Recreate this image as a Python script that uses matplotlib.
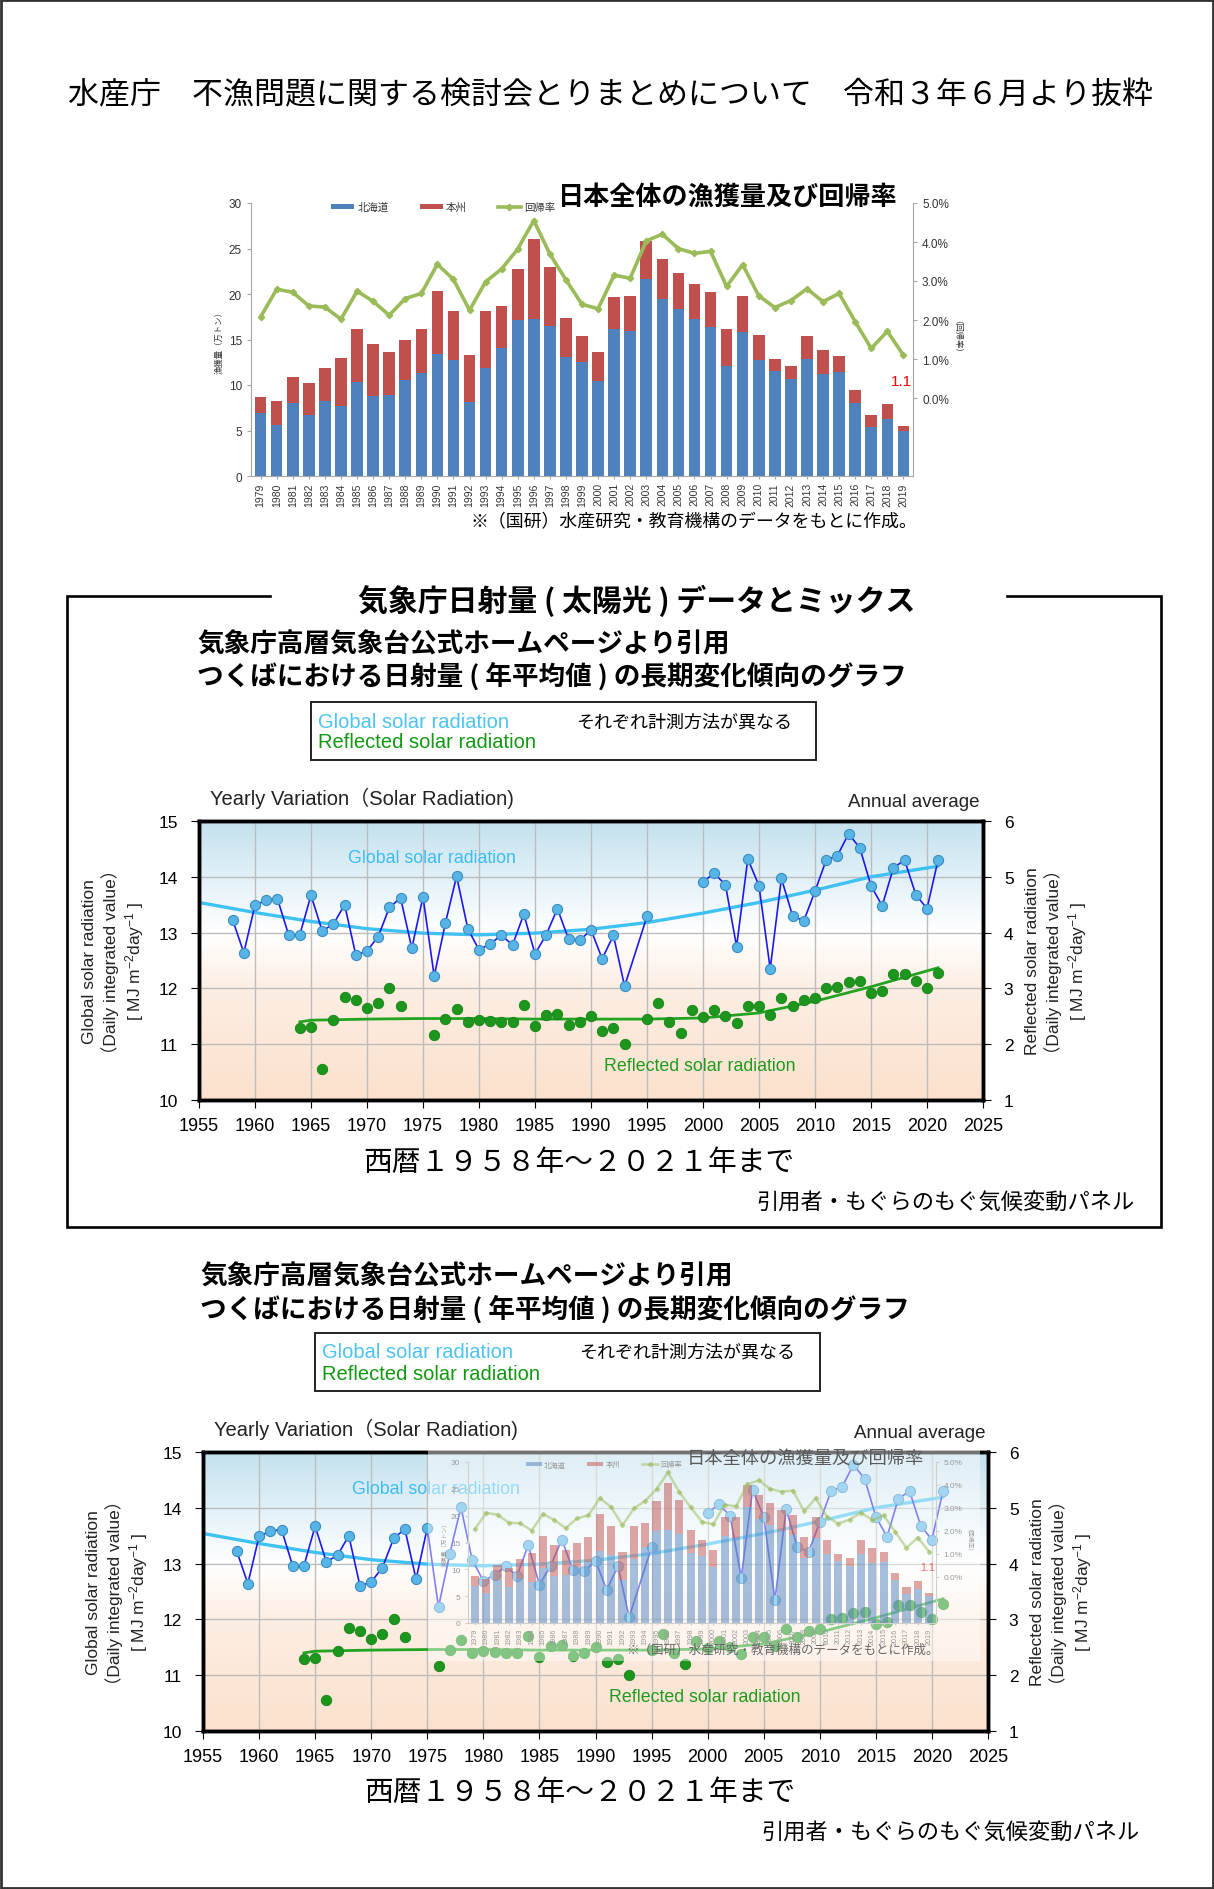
import numpy as np
import matplotlib
matplotlib.use('Agg')
import matplotlib.pyplot as plt
from matplotlib.patches import Rectangle
from matplotlib.lines import Line2D
from matplotlib.colors import LinearSegmentedColormap

plt.rcParams['mathtext.fontset'] = 'custom'
plt.rcParams['mathtext.rm'] = 'Liberation Sans'
plt.rcParams['mathtext.it'] = 'Liberation Sans:italic'
plt.rcParams['font.family'] = ['Liberation Sans', 'Noto Sans CJK JP', 'DejaVu Sans']

# ---------------- data: catch chart ----------------
catch_years = list(range(1979, 2020))
hokkaido = [6.9, 5.6, 8.0, 6.7, 8.2, 7.7, 10.3, 8.8, 8.9, 10.5, 11.3, 13.4, 12.7, 8.1, 11.9, 14.1,
            17.1, 17.3, 16.5, 13.1, 12.5, 10.4, 16.2, 15.9, 21.6, 19.4, 18.3, 17.2, 16.4, 12.1,
            15.8, 12.8, 11.5, 10.7, 12.9, 11.2, 11.4, 8.0, 5.4, 6.3, 5.0]
honshu = [1.8, 2.6, 2.9, 3.5, 3.7, 5.3, 5.9, 5.7, 4.7, 4.5, 4.8, 6.9, 5.4, 5.2, 6.2, 4.6,
          5.7, 8.7, 6.5, 4.3, 2.9, 3.2, 3.5, 3.9, 4.2, 4.5, 4.0, 3.9, 3.8, 4.0,
          4.0, 2.7, 1.4, 1.4, 2.5, 2.7, 1.8, 1.4, 1.3, 1.6, 0.5]
return_rate = [2.08, 2.79, 2.71, 2.36, 2.33, 2.02, 2.74, 2.48, 2.12, 2.55, 2.68, 3.43, 3.04, 2.25,
               2.98, 3.31, 3.82, 4.55, 3.69, 3.03, 2.40, 2.29, 3.15, 3.07, 4.03, 4.20, 3.83, 3.71,
               3.76, 2.86, 3.42, 2.62, 2.32, 2.50, 2.80, 2.47, 2.68, 1.96, 1.27, 1.71, 1.10]
rate_ticks = [0, 1, 2, 3, 4, 5]

# ---------------- data: solar radiation chart ----------------
global_years = list(range(1958, 1994)) + [1995] + list(range(2000, 2022))
global_vals = [13.23, 12.64, 13.49, 13.58, 13.61, 12.96, 12.96, 13.67, 13.03, 13.15, 13.50, 12.60,
               12.67, 12.93, 13.45, 13.62, 12.72, 13.64, 12.22, 13.17, 14.01, 13.07, 12.69, 12.80,
               12.95, 12.78, 13.33, 12.62, 12.96, 13.43, 12.88, 12.86, 13.05, 12.53, 12.95, 12.04,
               13.29,
               13.91, 14.06, 13.86, 12.75, 14.32, 13.84, 12.35, 13.97, 13.30, 13.21, 13.74, 14.30,
               14.38, 14.77, 14.52, 13.84, 13.48, 14.16, 14.30, 13.68, 13.43, 14.31]
refl_years = list(range(1964, 1974)) + list(range(1976, 1994)) + list(range(1995, 2022))
refl_vals = [2.29, 2.30, 1.56, 2.43, 2.85, 2.79, 2.64, 2.73, 3.00, 2.68,
             2.17, 2.46, 2.63, 2.39, 2.43, 2.41, 2.40, 2.39, 2.70, 2.32, 2.53, 2.54, 2.35, 2.40,
             2.51, 2.24, 2.29, 2.00,
             2.46, 2.73, 2.40, 2.20, 2.61, 2.49, 2.61, 2.51, 2.38, 2.69, 2.69, 2.52, 2.82, 2.68,
             2.79, 2.83, 3.00, 3.03, 3.11, 3.13, 2.91, 2.95, 3.25, 3.25, 3.13, 3.01, 3.27]
global_trend_years = [1955, 1960, 1965, 1970, 1975, 1980, 1985, 1990, 1995, 2000, 2005, 2010, 2015, 2021]
global_trend_vals = [13.54, 13.36, 13.20, 13.07, 12.99, 12.96, 12.99, 13.06, 13.18, 13.35, 13.54, 13.76, 14.00, 14.19]
refl_trend_years = [1964, 1965, 1970, 1975, 1980, 1985, 1990, 1995, 2000, 2005, 2010, 2015, 2021]
refl_trend_vals = [2.40, 2.43, 2.45, 2.46, 2.46, 2.45, 2.45, 2.45, 2.47, 2.56, 2.77, 3.03, 3.37]

# ---------------- figure helpers ----------------
W, H = 1214, 1890
fig = plt.figure(figsize=(W / 100, H / 100), dpi=100)
JP = ['Noto Sans CJK JP', 'DejaVu Sans']
EN = ['Liberation Sans', 'Noto Sans CJK JP', 'DejaVu Sans']
NARROW = ['Liberation Sans Narrow', 'Liberation Sans', 'DejaVu Sans']


def add_ax(x0, y0, x1, y1):
    return fig.add_axes([x0 / W, 1 - y1 / H, (x1 - x0) / W, (y1 - y0) / H])


def ftext(x, y, s, **kw):
    return fig.text(x / W, 1 - y / H, s, **kw)


def frect(x0, y0, x1, y1, **kw):
    r = Rectangle((x0 / W, 1 - y1 / H), (x1 - x0) / W, (y1 - y0) / H,
                  transform=fig.transFigure, **kw)
    fig.add_artist(r)
    return r


def fline(xs, ys, **kw):
    fig.add_artist(Line2D([x / W for x in xs], [1 - y / H for y in ys],
                          transform=fig.transFigure, **kw))


def draw_catch(rect, k=1.0, a=1.0, main=True, zo=None):
    ax = add_ax(*rect)
    ax.patch.set_visible(False)
    xs = np.arange(len(catch_years))
    b1 = ax.bar(xs, hokkaido, 0.72, color='#4f81bd', alpha=a, zorder=2)
    b2 = ax.bar(xs, honshu, 0.72, bottom=hokkaido, color='#c0504d', alpha=a, zorder=2)
    ax.set_xlim(-0.6, len(xs) - 0.4)
    ax.set_ylim(0, 30)
    ax.set_yticks(range(0, 31, 5))
    ax.set_xticks(xs)
    tc = '#333333' if main else '#9a9a9a'
    sc = '#a6a6a6' if main else '#cfcfcf'
    ax.set_xticklabels([str(y) for y in catch_years], rotation=90, fontsize=7.5 * k, color=tc)
    ax.tick_params(axis='y', labelsize=8.5 * k, colors=tc, length=3 * k, color=sc)
    ax.tick_params(axis='x', length=2.5 * k, color=sc, pad=2 * k)
    for s in ['top', 'right']:
        ax.spines[s].set_visible(False)
    for s in ['left', 'bottom']:
        ax.spines[s].set_color(sc)
    ax2 = ax.twinx()
    ax2.patch.set_visible(False)
    ln, = ax2.plot(xs, return_rate, color='#9bbb59', lw=2.6 * k, marker='D', ms=3.2 * k,
                   alpha=a, zorder=3)
    ax2.set_ylim(-2, 5)
    ax2.set_yticks(rate_ticks)
    ax2.set_yticklabels([f'{v:.1f}%' for v in rate_ticks])
    ax2.tick_params(axis='y', labelsize=8.5 * k, colors=tc, length=3 * k, color=sc)
    for s in ['top', 'left', 'bottom']:
        ax2.spines[s].set_visible(False)
    ax2.spines['right'].set_color(sc)
    if zo is not None:
        ax.set_zorder(zo)
        ax2.set_zorder(zo + 1)
    leg = ax2.legend([b1, b2, ln], ['北海道', '本州', '回帰率'], loc='center',
                     bbox_to_anchor=(0.29, 0.985), ncol=3, frameon=False,
                     prop={'family': JP, 'size': 7.5 * k}, handlelength=2.2,
                     handleheight=0.5, columnspacing=3.0, handletextpad=0.3)
    for t in leg.get_texts():
        t.set_color(tc)
    ax2.text(0.72, 1.026, '日本全体の漁獲量及び回帰率', transform=ax2.transAxes, ha='center',
             va='center', fontsize=18.8 * k, weight='bold' if main else 'normal',
             color='black' if main else '#5a5a5a', family=JP)
    ax2.text(0.983, 0.348, '1.1', transform=ax2.transAxes, ha='center', va='center',
             fontsize=11 * k, color='red', alpha=1 if main else 0.6)
    ax2.text(1.006, -0.165, '※（国研）水産研究・教育機構のデータをもとに作成。',
             transform=ax2.transAxes, ha='right', va='center', fontsize=12.9 * k,
             color='black' if main else '#666666', family=JP)
    ax.set_ylabel('漁獲量（万トン）', family=JP, fontsize=6 * k, color=tc, labelpad=4 * k)
    ax2.set_ylabel('（回帰率）', family=JP, fontsize=6 * k, color=tc, labelpad=6 * k, rotation=270)
    return ax, ax2


cmap = LinearSegmentedColormap.from_list('bg', [
    (0.0, '#fbe1cd'), (0.4, '#fdeee3'), (0.6, '#ffffff'), (0.7, '#f1f8fc'), (1.0, '#c3e1ee')])
grad = np.linspace(0, 1, 256).reshape(-1, 1)


def draw_solar(rect):
    x0, y0, x1, y1 = rect
    ax = add_ax(*rect)
    ax.imshow(grad, extent=[1955, 2025, 10, 15], aspect='auto', cmap=cmap, origin='lower',
              zorder=0, interpolation='bilinear')
    ax.set_xlim(1955, 2025)
    ax.set_ylim(10, 15)
    ax.set_xticks(range(1955, 2026, 5))
    ax.set_yticks(range(10, 16))
    ax.set_axisbelow(True)
    ax.grid(True, color='#bdbdbd', lw=1.0)
    ax.plot(global_trend_years, global_trend_vals, color='#3fc2f2', lw=2.4, zorder=2,
            solid_capstyle='round')
    gy = np.array(global_years)
    gv = np.array(global_vals)
    breaks = np.where(np.diff(gy) > 2)[0] + 1
    for seg_y, seg_v in zip(np.split(gy, breaks), np.split(gv, breaks)):
        ax.plot(seg_y, seg_v, color='#1a1aee', lw=1.2, marker='o', ms=7.3,
                mfc='#56b4e6', mec='#3b8cc0', mew=0.8, zorder=3)
    ax.tick_params(axis='x', labelsize=13, length=6, pad=6)
    ax.tick_params(axis='y', labelsize=12.5, length=6, pad=9)
    for s in ax.spines.values():
        s.set_linewidth(2.5)
        s.set_color('black')
    ax.text(1968.3, 14.35, 'Global solar radiation', color='#3dbcf0', fontsize=12.8,
            va='center', ha='left', zorder=4)
    ax2 = ax.twinx()
    ax2.set_ylim(1, 6)
    ax2.set_yticks(range(1, 7))
    ax2.tick_params(axis='y', labelsize=12.5, length=6, pad=9)
    for s in ax2.spines.values():
        s.set_linewidth(2.5)
        s.set_color('black')
    ax2.plot(refl_trend_years, refl_trend_vals, color='#22a322', lw=2.0, zorder=2)
    ax2.plot(refl_years, refl_vals, ls='none', marker='o', ms=7.5, mfc='#1c961c',
             mec='#168216', mew=0.6, zorder=3)
    ax.text(1991.2, 10.61, 'Reflected solar radiation', color='#1f9a1f', fontsize=12.8,
            va='center', ha='left', zorder=4)
    # titles
    ftext(x0 + 11, y0 - 24, 'Yearly Variation（Solar Radiation)', fontsize=14.5,
          family=EN, ha='left', va='center', color='#222222')
    ftext(x1 - 3, y0 - 19, 'Annual average', fontsize=13.5, family=EN, ha='right',
          va='center', color='#222222')
    yc = (y0 + y1) / 2
    unit = r'[ MJ m$^{\mathrm{-2}}$day$^{\mathrm{-1}}$ ]'
    ftext(x0 - 85, yc, 'Global solar radiation\n（Daily integrated value）\n' + unit,
          rotation=90, ha='center', va='center', multialignment='center', fontsize=12.5,
          family=EN, linespacing=1.25, color='#222222')
    ftext(x1 + 74, yc, 'Reflected solar radiation\n（Daily integrated value）\n' + unit,
          rotation=90, ha='center', va='center', multialignment='center', fontsize=12.5,
          family=EN, linespacing=1.25, color='#222222')
    return ax, ax2


# ---------------- page ----------------
frect(1, 1, W - 1, H - 1, fill=False, lw=2, edgecolor='#333333')
ftext(610, 96, '水産庁　不漁問題に関する検討会とりまとめについて　令和３年６月より抜粋',
      family=JP, fontsize=22.3, ha='center', va='center')

# catch chart (top)
draw_catch((251, 204, 913, 477), k=1.0, a=1.0, main=True)

# section 2 frame
fline([270, 67, 67, 1161, 1161, 1007], [597, 597, 1228, 1228, 597, 597], color='black',
      lw=1.9, solid_joinstyle='miter')
ftext(637, 601, '気象庁日射量 ( 太陽光 ) データとミックス', family=JP, fontsize=21.5,
      weight='bold', ha='center', va='center')


def subtitles(x, y1, y2, box, gx, gy1, gy2, nx, ny):
    ftext(x, y1, '気象庁高層気象台公式ホームページより引用', family=JP, fontsize=19.2,
          weight='bold', ha='left', va='center')
    ftext(x, y2, 'つくばにおける日射量 ( 年平均値 ) の長期変化傾向のグラフ', family=JP,
          fontsize=19.2, weight='bold', ha='left', va='center')
    frect(*box, fill=False, lw=1.4, edgecolor='#222222')
    ftext(gx, gy1, 'Global solar radiation', family=NARROW, fontsize=14.5, color='#4cc3f0',
          ha='left', va='center')
    ftext(gx, gy2, 'Reflected solar radiation', family=NARROW, fontsize=14.5, color='#119911',
          ha='left', va='center')
    ftext(nx, ny, 'それぞれ計測方法が異なる', family=JP, fontsize=13, ha='left', va='center')


subtitles(197, 645, 677, (311, 703, 816, 761), 318, 722, 743, 576, 723)
draw_solar((199, 822, 983, 1101))
ftext(579, 1163, '西暦１９５８年～２０２１年まで', family=JP, fontsize=20.7, ha='center', va='center')
ftext(1135, 1203, '引用者・もぐらのもぐ気候変動パネル', family=JP, fontsize=16, ha='right', va='center')

# section 3
subtitles(200, 1277, 1310, (315, 1334, 820, 1392), 322, 1353, 1375, 579, 1353)
draw_solar((203, 1453, 988, 1732))
ftext(580, 1793, '西暦１９５８年～２０２１年まで', family=JP, fontsize=20.7, ha='center', va='center')
ftext(1140, 1833, '引用者・もぐらのもぐ気候変動パネル', family=JP, fontsize=16, ha='right', va='center')

# semi-transparent overlay of catch chart
frect(428, 1450, 980, 1662, facecolor='white', alpha=0.45, lw=0, zorder=3)
draw_catch((468, 1463, 936, 1624), k=0.7, a=0.5, main=False, zo=5)

fig.savefig('out.png', dpi=100)
